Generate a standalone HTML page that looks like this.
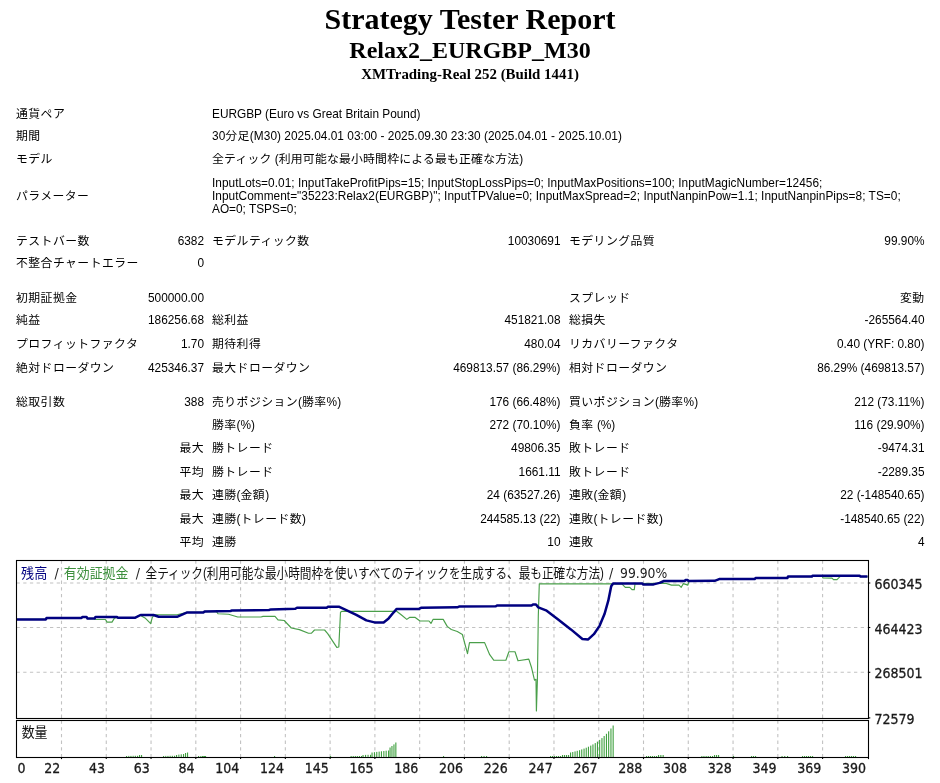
<!DOCTYPE html>
<html><head><meta charset="utf-8"><title>Strategy Tester: Relax2_EURGBP_M30</title>
<style>
html,body{margin:0;padding:0;background:#fff;}
body{width:940px;height:783px;position:relative;overflow:hidden;}
.h{position:absolute;left:0;width:940px;text-align:center;font-family:"Liberation Serif","Noto Serif CJK SC",serif;font-weight:bold;color:#000;white-space:nowrap;}
.t{position:absolute;white-space:nowrap;font-family:"Liberation Sans","Noto Sans CJK JP",sans-serif;font-size:11.85px;line-height:14px;height:14px;color:#000;}
.j{letter-spacing:var(--js,0.45px);}
.ch{position:absolute;left:0;top:550px;}
.g{stroke:#c2c2c2;stroke-width:1.1;stroke-dasharray:3.3 3.4;fill:none;}
.f{fill:none;stroke:#000;stroke-width:1.1;}
.ax{font-family:"DejaVu Sans Condensed","DejaVu Sans",sans-serif;font-size:14px;fill:#1a1a1a;stroke:#1a1a1a;stroke-width:0.3px;}
.lg{font-family:"Liberation Sans","Noto Sans CJK JP",sans-serif;font-size:14px;fill:#111;}
.lgl{font-family:"DejaVu Sans Condensed","DejaVu Sans",sans-serif;font-size:14px;fill:#222;}
</style></head>
<body>
<div class="h" style="top:0.5px;font-size:30px;line-height:36px;">Strategy Tester Report</div>
<div class="h" style="top:36px;font-size:24px;line-height:28px;">Relax2_EURGBP_M30</div>
<div class="h" style="top:64.5px;font-size:14.9px;line-height:18px;">XMTrading-Real 252 (Build 1441)</div>
<span class="t" style="top:106.6px;left:16px;"><span class="j">通貨ペア</span></span>
<span class="t" style="top:106.6px;left:212px;">EURGBP (Euro vs Great Britain Pound)</span>
<span class="t" style="top:129.0px;left:16px;"><span class="j">期間</span></span>
<span class="t" style="top:129.0px;left:212px;letter-spacing:0.04px">30<span class="j">分足</span>(M30) 2025.04.01 03:00 - 2025.09.30 23:30 (2025.04.01 - 2025.10.01)</span>
<span class="t" style="top:152.4px;left:16px;"><span class="j">モデル</span></span>
<span class="t" style="top:152.4px;left:212px;--js:0.2px"><span class="j">全ティック</span> (<span class="j">利用可能な最小時間枠による最も正確な方法</span>)</span>
<span class="t" style="top:188.9px;left:16px;"><span class="j">パラメーター</span></span>
<span class="t" style="top:175.6px;left:212px;letter-spacing:0.04px">InputLots=0.01; InputTakeProfitPips=15; InputStopLossPips=0; InputMaxPositions=100; InputMagicNumber=12456;</span>
<span class="t" style="top:188.9px;left:212px;letter-spacing:0.04px">InputComment=&quot;35223:Relax2(EURGBP)&quot;; InputTPValue=0; InputMaxSpread=2; InputNanpinPow=1.1; InputNanpinPips=8; TS=0;</span>
<span class="t" style="top:202.4px;left:212px;">AO=0; TSPS=0;</span>
<span class="t" style="top:233.6px;left:16px;"><span class="j">テストバー数</span></span>
<span class="t" style="top:233.6px;right:736px;">6382</span>
<span class="t" style="top:233.6px;left:212px;"><span class="j">モデルティック数</span></span>
<span class="t" style="top:233.6px;right:379.5px;">10030691</span>
<span class="t" style="top:233.6px;left:569px;"><span class="j">モデリング品質</span></span>
<span class="t" style="top:233.6px;right:15.5px;">99.90%</span>
<span class="t" style="top:256.4px;left:16px;"><span class="j">不整合チャートエラー</span></span>
<span class="t" style="top:256.4px;right:736px;">0</span>
<span class="t" style="top:290.5px;left:16px;"><span class="j">初期証拠金</span></span>
<span class="t" style="top:290.5px;right:736px;">500000.00</span>
<span class="t" style="top:290.5px;left:569px;"><span class="j">スプレッド</span></span>
<span class="t" style="top:290.5px;right:15.5px;"><span class="j">変動</span></span>
<span class="t" style="top:313.2px;left:16px;"><span class="j">純益</span></span>
<span class="t" style="top:313.2px;right:736px;">186256.68</span>
<span class="t" style="top:313.2px;left:212px;"><span class="j">総利益</span></span>
<span class="t" style="top:313.2px;right:379.5px;">451821.08</span>
<span class="t" style="top:313.2px;left:569px;"><span class="j">総損失</span></span>
<span class="t" style="top:313.2px;right:15.5px;">-265564.40</span>
<span class="t" style="top:336.9px;left:16px;"><span class="j">プロフィットファクタ</span></span>
<span class="t" style="top:336.9px;right:736px;">1.70</span>
<span class="t" style="top:336.9px;left:212px;"><span class="j">期待利得</span></span>
<span class="t" style="top:336.9px;right:379.5px;">480.04</span>
<span class="t" style="top:336.9px;left:569px;"><span class="j">リカバリーファクタ</span></span>
<span class="t" style="top:336.9px;right:15.5px;">0.40 (YRF: 0.80)</span>
<span class="t" style="top:360.5px;left:16px;"><span class="j">絶対ドローダウン</span></span>
<span class="t" style="top:360.5px;right:736px;">425346.37</span>
<span class="t" style="top:360.5px;left:212px;"><span class="j">最大ドローダウン</span></span>
<span class="t" style="top:360.5px;right:379.5px;">469813.57 (86.29%)</span>
<span class="t" style="top:360.5px;left:569px;"><span class="j">相対ドローダウン</span></span>
<span class="t" style="top:360.5px;right:15.5px;">86.29% (469813.57)</span>
<span class="t" style="top:394.5px;left:16px;"><span class="j">総取引数</span></span>
<span class="t" style="top:394.5px;right:736px;">388</span>
<span class="t" style="top:394.5px;left:212px;"><span class="j">売りポジション</span>(<span class="j">勝率</span>%)</span>
<span class="t" style="top:394.5px;right:379.5px;">176 (66.48%)</span>
<span class="t" style="top:394.5px;left:569px;"><span class="j">買いポジション</span>(<span class="j">勝率</span>%)</span>
<span class="t" style="top:394.5px;right:15.5px;">212 (73.11%)</span>
<span class="t" style="top:417.9px;left:212px;"><span class="j">勝率</span>(%)</span>
<span class="t" style="top:417.9px;right:379.5px;">272 (70.10%)</span>
<span class="t" style="top:417.9px;left:569px;"><span class="j">負率</span> (%)</span>
<span class="t" style="top:417.9px;right:15.5px;">116 (29.90%)</span>
<span class="t" style="top:441.3px;right:736px;"><span class="j">最大</span></span>
<span class="t" style="top:441.3px;left:212px;"><span class="j">勝トレード</span></span>
<span class="t" style="top:441.3px;right:379.5px;">49806.35</span>
<span class="t" style="top:441.3px;left:569px;"><span class="j">敗トレード</span></span>
<span class="t" style="top:441.3px;right:15.5px;">-9474.31</span>
<span class="t" style="top:464.7px;right:736px;"><span class="j">平均</span></span>
<span class="t" style="top:464.7px;left:212px;"><span class="j">勝トレード</span></span>
<span class="t" style="top:464.7px;right:379.5px;">1661.11</span>
<span class="t" style="top:464.7px;left:569px;"><span class="j">敗トレード</span></span>
<span class="t" style="top:464.7px;right:15.5px;">-2289.35</span>
<span class="t" style="top:488.1px;right:736px;"><span class="j">最大</span></span>
<span class="t" style="top:488.1px;left:212px;"><span class="j">連勝</span>(<span class="j">金額</span>)</span>
<span class="t" style="top:488.1px;right:379.5px;">24 (63527.26)</span>
<span class="t" style="top:488.1px;left:569px;"><span class="j">連敗</span>(<span class="j">金額</span>)</span>
<span class="t" style="top:488.1px;right:15.5px;">22 (-148540.65)</span>
<span class="t" style="top:511.5px;right:736px;"><span class="j">最大</span></span>
<span class="t" style="top:511.5px;left:212px;"><span class="j">連勝</span>(<span class="j">トレード数</span>)</span>
<span class="t" style="top:511.5px;right:379.5px;">244585.13 (22)</span>
<span class="t" style="top:511.5px;left:569px;"><span class="j">連敗</span>(<span class="j">トレード数</span>)</span>
<span class="t" style="top:511.5px;right:15.5px;">-148540.65 (22)</span>
<span class="t" style="top:534.9px;right:736px;"><span class="j">平均</span></span>
<span class="t" style="top:534.9px;left:212px;"><span class="j">連勝</span></span>
<span class="t" style="top:534.9px;right:379.5px;">10</span>
<span class="t" style="top:534.9px;left:569px;"><span class="j">連敗</span></span>
<span class="t" style="top:534.9px;right:15.5px;">4</span>
<svg class="ch" width="940" height="233" viewBox="0 550 940 233"><rect x="16.5" y="560.5" width="852.0" height="158.0" fill="#fff"/>
<line x1="16.5" y1="583.0" x2="868.5" y2="583.0" class="g"/>
<line x1="16.5" y1="627.5" x2="868.5" y2="627.5" class="g"/>
<line x1="16.5" y1="672.3" x2="868.5" y2="672.3" class="g"/>
<line x1="61.50" y1="560.5" x2="61.50" y2="718.5" class="g"/>
<line x1="61.50" y1="720.5" x2="61.50" y2="757.5" class="g"/>
<line x1="106.27" y1="560.5" x2="106.27" y2="718.5" class="g"/>
<line x1="106.27" y1="720.5" x2="106.27" y2="757.5" class="g"/>
<line x1="151.04" y1="560.5" x2="151.04" y2="718.5" class="g"/>
<line x1="151.04" y1="720.5" x2="151.04" y2="757.5" class="g"/>
<line x1="195.81" y1="560.5" x2="195.81" y2="718.5" class="g"/>
<line x1="195.81" y1="720.5" x2="195.81" y2="757.5" class="g"/>
<line x1="240.58" y1="560.5" x2="240.58" y2="718.5" class="g"/>
<line x1="240.58" y1="720.5" x2="240.58" y2="757.5" class="g"/>
<line x1="285.35" y1="560.5" x2="285.35" y2="718.5" class="g"/>
<line x1="285.35" y1="720.5" x2="285.35" y2="757.5" class="g"/>
<line x1="330.12" y1="560.5" x2="330.12" y2="718.5" class="g"/>
<line x1="330.12" y1="720.5" x2="330.12" y2="757.5" class="g"/>
<line x1="374.89" y1="560.5" x2="374.89" y2="718.5" class="g"/>
<line x1="374.89" y1="720.5" x2="374.89" y2="757.5" class="g"/>
<line x1="419.66" y1="560.5" x2="419.66" y2="718.5" class="g"/>
<line x1="419.66" y1="720.5" x2="419.66" y2="757.5" class="g"/>
<line x1="464.43" y1="560.5" x2="464.43" y2="718.5" class="g"/>
<line x1="464.43" y1="720.5" x2="464.43" y2="757.5" class="g"/>
<line x1="509.20" y1="560.5" x2="509.20" y2="718.5" class="g"/>
<line x1="509.20" y1="720.5" x2="509.20" y2="757.5" class="g"/>
<line x1="553.97" y1="560.5" x2="553.97" y2="718.5" class="g"/>
<line x1="553.97" y1="720.5" x2="553.97" y2="757.5" class="g"/>
<line x1="598.74" y1="560.5" x2="598.74" y2="718.5" class="g"/>
<line x1="598.74" y1="720.5" x2="598.74" y2="757.5" class="g"/>
<line x1="643.51" y1="560.5" x2="643.51" y2="718.5" class="g"/>
<line x1="643.51" y1="720.5" x2="643.51" y2="757.5" class="g"/>
<line x1="688.28" y1="560.5" x2="688.28" y2="718.5" class="g"/>
<line x1="688.28" y1="720.5" x2="688.28" y2="757.5" class="g"/>
<line x1="733.05" y1="560.5" x2="733.05" y2="718.5" class="g"/>
<line x1="733.05" y1="720.5" x2="733.05" y2="757.5" class="g"/>
<line x1="777.82" y1="560.5" x2="777.82" y2="718.5" class="g"/>
<line x1="777.82" y1="720.5" x2="777.82" y2="757.5" class="g"/>
<line x1="822.59" y1="560.5" x2="822.59" y2="718.5" class="g"/>
<line x1="822.59" y1="720.5" x2="822.59" y2="757.5" class="g"/>
<polyline points="16.5,619.4 46.0,619.4 46.5,618.0 81.5,618.0 82.5,616.9 86.5,616.9 87.5,618.6 94.5,618.6 95.0,619.5 105.5,619.5 107.0,622.1 112.0,622.1 114.6,617.9 117.0,617.7 135.3,617.7 139.6,615.0 145.0,617.9 150.7,623.7 152.3,617.3 154.5,614.7 177.0,614.7 187.2,612.4 203.4,612.4 205.0,611.4 216.5,611.6 218.0,613.8 228.6,614.2 237.7,617.0 261.0,617.0 263.0,616.4 275.0,616.4 278.0,619.9 284.2,620.5 291.3,628.0 299.4,629.6 308.5,633.2 311.5,633.2 314.5,630.0 324.6,630.0 327.7,633.6 336.8,647.4 338.8,647.0 340.5,612.3 342.0,611.3 393.7,611.3 395.7,610.5 401.8,615.3 406.8,619.4 409.8,617.3 414.9,617.3 420.0,621.0 429.0,621.0 431.0,623.4 433.0,619.4 443.2,619.4 447.2,626.4 451.3,629.5 457.3,631.5 462.4,634.5 467.5,653.7 469.5,642.6 484.6,642.6 489.7,654.7 493.7,660.2 505.9,660.2 508.9,651.7 515.0,651.7 518.0,660.8 528.8,659.1 531.6,667.8 534.5,680.2 536.0,679.3 536.4,710.9 537.4,680.0 538.3,616.0 539.3,583.8 611.2,583.8 621.6,583.6 625.3,587.3 629.8,587.3 632.0,589.6 634.3,589.6 635.0,583.6 665.5,583.3 671.5,585.1 679.0,585.1 681.2,587.3 683.4,583.6 687.9,585.1 689.0,581.1 714.7,580.8 719.2,579.1 754.6,579.1 755.5,578.1 787.3,578.1 788.0,576.6 811.9,576.6 812.5,575.7 822.0,575.7 823.0,577.9 832.0,578.1 833.5,579.6 837.0,579.6 839.0,577.6 841.0,575.7 859.6,575.7 860.5,576.6 867.5,576.6" fill="none" stroke="#4a9f4a" stroke-width="1.15" stroke-linejoin="round"/>
<polyline points="16.5,619.4 46.0,619.4 46.5,618.0 81.5,618.0 82.5,616.9 86.5,616.9 87.5,618.6 94.5,618.6 95.5,617.0 117.0,617.0 118.0,617.7 135.3,617.7 140.6,615.0 153.4,615.0 158.7,616.8 177.0,616.8 187.2,612.4 203.4,612.4 205.0,611.4 230.6,611.0 232.0,610.4 269.0,610.0 271.0,609.4 295.3,608.8 297.0,607.7 326.7,607.7 328.0,606.7 338.8,606.7 345.2,609.7 356.3,614.9 366.4,620.4 374.5,622.4 383.6,622.4 388.6,618.4 393.7,612.3 396.7,608.9 419.0,608.9 421.0,607.8 457.3,607.3 459.0,606.6 495.8,606.3 497.0,605.5 531.6,605.5 533.0,604.5 536.0,604.5 538.3,607.4 546.0,610.3 557.5,618.9 570.9,629.4 582.4,639.0 588.2,639.4 593.9,634.2 599.7,625.6 604.5,614.1 608.3,600.7 611.2,586.3 613.1,583.5 642.4,583.5 643.0,584.4 653.6,584.4 659.6,582.9 664.0,581.0 684.9,581.0 685.5,579.9 687.5,579.9 688.6,581.1 714.7,580.8 719.2,579.1 754.6,579.1 755.5,578.1 787.3,578.1 788.0,576.6 811.9,576.6 812.5,575.7 859.6,575.7 860.5,576.6 867.5,576.6" fill="none" stroke="#000080" stroke-width="2.5" stroke-linejoin="round"/>
<rect x="126.0" y="756.0" width="1.1" height="1.0" fill="#3fa03f"/>
<rect x="128.2" y="755.9" width="1.1" height="1.0" fill="#3fa03f"/>
<rect x="130.4" y="755.9" width="1.1" height="1.1" fill="#3fa03f"/>
<rect x="132.6" y="755.8" width="1.1" height="1.1" fill="#3fa03f"/>
<rect x="134.8" y="755.8" width="1.1" height="1.2" fill="#3fa03f"/>
<rect x="137.0" y="755.8" width="1.1" height="1.2" fill="#3fa03f"/>
<rect x="139.0" y="755.0" width="1.1" height="2.0" fill="#3fa03f"/>
<rect x="141.0" y="755.0" width="1.1" height="2.0" fill="#3fa03f"/>
<rect x="163.0" y="756.0" width="1.1" height="1.0" fill="#3fa03f"/>
<rect x="165.2" y="755.9" width="1.1" height="1.0" fill="#3fa03f"/>
<rect x="167.4" y="755.9" width="1.1" height="1.1" fill="#3fa03f"/>
<rect x="169.6" y="755.8" width="1.1" height="1.1" fill="#3fa03f"/>
<rect x="171.8" y="755.8" width="1.1" height="1.2" fill="#3fa03f"/>
<rect x="174.0" y="755.8" width="1.1" height="1.2" fill="#3fa03f"/>
<rect x="176.0" y="755.0" width="1.1" height="2.0" fill="#3fa03f"/>
<rect x="178.3" y="754.6" width="1.1" height="2.3" fill="#3fa03f"/>
<rect x="180.7" y="754.3" width="1.1" height="2.7" fill="#3fa03f"/>
<rect x="183.0" y="754.0" width="1.1" height="3.0" fill="#3fa03f"/>
<rect x="185.0" y="753.0" width="1.1" height="4.0" fill="#3fa03f"/>
<rect x="187.0" y="752.5" width="1.1" height="4.5" fill="#3fa03f"/>
<rect x="198.0" y="756.0" width="1.1" height="1.0" fill="#3fa03f"/>
<rect x="200.3" y="756.0" width="1.1" height="1.0" fill="#3fa03f"/>
<rect x="202.7" y="756.0" width="1.1" height="1.0" fill="#3fa03f"/>
<rect x="205.0" y="756.0" width="1.1" height="1.0" fill="#3fa03f"/>
<rect x="202.0" y="756.0" width="1.1" height="1.0" fill="#3fa03f"/>
<rect x="204.0" y="756.0" width="1.1" height="1.0" fill="#3fa03f"/>
<rect x="274.0" y="756.0" width="1.1" height="1.0" fill="#3fa03f"/>
<rect x="330.0" y="756.0" width="1.1" height="1.0" fill="#3fa03f"/>
<rect x="443.0" y="756.0" width="1.1" height="1.0" fill="#3fa03f"/>
<rect x="350.6" y="756.0" width="1.1" height="1.0" fill="#3fa03f"/>
<rect x="352.7" y="756.0" width="1.1" height="1.0" fill="#3fa03f"/>
<rect x="354.8" y="756.0" width="1.1" height="1.0" fill="#3fa03f"/>
<rect x="356.8" y="756.0" width="1.1" height="1.0" fill="#3fa03f"/>
<rect x="358.9" y="756.0" width="1.1" height="1.0" fill="#3fa03f"/>
<rect x="361.0" y="756.0" width="1.1" height="1.0" fill="#3fa03f"/>
<rect x="362.5" y="755.0" width="1.1" height="2.0" fill="#3fa03f"/>
<rect x="365.0" y="754.9" width="1.1" height="2.1" fill="#3fa03f"/>
<rect x="367.5" y="754.8" width="1.1" height="2.1" fill="#3fa03f"/>
<rect x="370.0" y="754.8" width="1.1" height="2.2" fill="#3fa03f"/>
<rect x="371.5" y="752.5" width="1.1" height="4.5" fill="#3fa03f"/>
<rect x="373.9" y="752.2" width="1.1" height="4.8" fill="#3fa03f"/>
<rect x="376.2" y="751.9" width="1.1" height="5.1" fill="#3fa03f"/>
<rect x="378.6" y="751.6" width="1.1" height="5.4" fill="#3fa03f"/>
<rect x="380.9" y="751.3" width="1.1" height="5.6" fill="#3fa03f"/>
<rect x="383.3" y="751.0" width="1.1" height="5.9" fill="#3fa03f"/>
<rect x="385.6" y="750.7" width="1.1" height="6.2" fill="#3fa03f"/>
<rect x="388.0" y="750.5" width="1.1" height="6.5" fill="#3fa03f"/>
<rect x="389.5" y="747.5" width="1.1" height="9.5" fill="#3fa03f"/>
<rect x="391.4" y="746.0" width="1.1" height="10.9" fill="#3fa03f"/>
<rect x="393.4" y="744.4" width="1.1" height="12.6" fill="#3fa03f"/>
<rect x="395.3" y="742.5" width="1.1" height="14.5" fill="#3fa03f"/>
<rect x="481.0" y="756.0" width="1.1" height="1.0" fill="#3fa03f"/>
<rect x="483.5" y="756.0" width="1.1" height="1.0" fill="#3fa03f"/>
<rect x="486.0" y="756.0" width="1.1" height="1.0" fill="#3fa03f"/>
<rect x="550.0" y="756.0" width="1.1" height="1.0" fill="#3fa03f"/>
<rect x="552.0" y="756.0" width="1.1" height="1.0" fill="#3fa03f"/>
<rect x="554.0" y="756.0" width="1.1" height="1.0" fill="#3fa03f"/>
<rect x="556.0" y="756.0" width="1.1" height="1.0" fill="#3fa03f"/>
<rect x="558.0" y="756.0" width="1.1" height="1.0" fill="#3fa03f"/>
<rect x="560.0" y="756.0" width="1.1" height="1.0" fill="#3fa03f"/>
<rect x="562.0" y="755.0" width="1.1" height="2.0" fill="#3fa03f"/>
<rect x="564.0" y="755.0" width="1.1" height="2.0" fill="#3fa03f"/>
<rect x="566.0" y="755.0" width="1.1" height="2.0" fill="#3fa03f"/>
<rect x="568.0" y="755.0" width="1.1" height="2.0" fill="#3fa03f"/>
<rect x="570.0" y="752.5" width="1.1" height="4.5" fill="#3fa03f"/>
<rect x="572.2" y="752.0" width="1.1" height="5.0" fill="#3fa03f"/>
<rect x="574.5" y="751.4" width="1.1" height="5.5" fill="#3fa03f"/>
<rect x="576.7" y="750.8" width="1.1" height="6.1" fill="#3fa03f"/>
<rect x="579.0" y="750.2" width="1.1" height="6.8" fill="#3fa03f"/>
<rect x="581.2" y="749.4" width="1.1" height="7.5" fill="#3fa03f"/>
<rect x="583.5" y="748.6" width="1.1" height="8.3" fill="#3fa03f"/>
<rect x="585.7" y="747.7" width="1.1" height="9.2" fill="#3fa03f"/>
<rect x="587.9" y="746.7" width="1.1" height="10.2" fill="#3fa03f"/>
<rect x="590.2" y="745.6" width="1.1" height="11.3" fill="#3fa03f"/>
<rect x="592.4" y="744.4" width="1.1" height="12.5" fill="#3fa03f"/>
<rect x="594.7" y="743.1" width="1.1" height="13.9" fill="#3fa03f"/>
<rect x="596.9" y="741.6" width="1.1" height="15.4" fill="#3fa03f"/>
<rect x="599.1" y="739.9" width="1.1" height="17.0" fill="#3fa03f"/>
<rect x="601.4" y="738.1" width="1.1" height="18.9" fill="#3fa03f"/>
<rect x="603.6" y="736.0" width="1.1" height="20.9" fill="#3fa03f"/>
<rect x="605.9" y="733.8" width="1.1" height="23.2" fill="#3fa03f"/>
<rect x="608.1" y="731.3" width="1.1" height="25.7" fill="#3fa03f"/>
<rect x="610.4" y="728.5" width="1.1" height="28.4" fill="#3fa03f"/>
<rect x="612.6" y="725.5" width="1.1" height="31.5" fill="#3fa03f"/>
<rect x="646.0" y="756.0" width="1.1" height="1.0" fill="#3fa03f"/>
<rect x="648.0" y="756.0" width="1.1" height="1.0" fill="#3fa03f"/>
<rect x="650.0" y="756.0" width="1.1" height="1.0" fill="#3fa03f"/>
<rect x="652.0" y="756.0" width="1.1" height="1.0" fill="#3fa03f"/>
<rect x="654.0" y="756.0" width="1.1" height="1.0" fill="#3fa03f"/>
<rect x="656.0" y="756.0" width="1.1" height="1.0" fill="#3fa03f"/>
<rect x="658.0" y="755.0" width="1.1" height="2.0" fill="#3fa03f"/>
<rect x="660.3" y="755.0" width="1.1" height="2.0" fill="#3fa03f"/>
<rect x="662.6" y="755.0" width="1.1" height="2.0" fill="#3fa03f"/>
<rect x="701.3" y="756.0" width="1.1" height="1.0" fill="#3fa03f"/>
<rect x="703.4" y="756.0" width="1.1" height="1.0" fill="#3fa03f"/>
<rect x="705.6" y="756.0" width="1.1" height="1.0" fill="#3fa03f"/>
<rect x="707.7" y="756.0" width="1.1" height="1.0" fill="#3fa03f"/>
<rect x="709.9" y="756.0" width="1.1" height="1.0" fill="#3fa03f"/>
<rect x="712.0" y="756.0" width="1.1" height="1.0" fill="#3fa03f"/>
<rect x="714.0" y="755.0" width="1.1" height="2.0" fill="#3fa03f"/>
<rect x="716.0" y="755.0" width="1.1" height="2.0" fill="#3fa03f"/>
<rect x="718.0" y="755.0" width="1.1" height="2.0" fill="#3fa03f"/>
<rect x="733.0" y="756.0" width="1.1" height="1.0" fill="#3fa03f"/>
<rect x="751.0" y="756.0" width="1.1" height="1.0" fill="#3fa03f"/>
<rect x="753.0" y="756.0" width="1.1" height="1.0" fill="#3fa03f"/>
<rect x="755.0" y="756.0" width="1.1" height="1.0" fill="#3fa03f"/>
<rect x="781.5" y="756.0" width="1.1" height="1.0" fill="#3fa03f"/>
<rect x="784.2" y="756.0" width="1.1" height="1.0" fill="#3fa03f"/>
<rect x="787.0" y="756.0" width="1.1" height="1.0" fill="#3fa03f"/>
<rect x="802.0" y="756.0" width="1.1" height="1.0" fill="#3fa03f"/>
<rect x="804.0" y="756.0" width="1.1" height="1.0" fill="#3fa03f"/>
<rect x="806.0" y="756.0" width="1.1" height="1.0" fill="#3fa03f"/>
<rect x="808.0" y="756.0" width="1.1" height="1.0" fill="#3fa03f"/>
<rect x="810.0" y="756.0" width="1.1" height="1.0" fill="#3fa03f"/>
<rect x="812.0" y="756.0" width="1.1" height="1.0" fill="#3fa03f"/>
<rect x="845.0" y="756.0" width="1.1" height="1.0" fill="#3fa03f"/>
<rect x="847.0" y="756.0" width="1.1" height="1.0" fill="#3fa03f"/>
<rect x="849.0" y="756.0" width="1.1" height="1.0" fill="#3fa03f"/>
<rect x="851.0" y="756.0" width="1.1" height="1.0" fill="#3fa03f"/>
<rect x="853.0" y="756.0" width="1.1" height="1.0" fill="#3fa03f"/>
<rect x="855.0" y="756.0" width="1.1" height="1.0" fill="#3fa03f"/>
<rect x="16.5" y="560.5" width="852.0" height="158.0" class="f"/>
<rect x="16.5" y="720.5" width="852.0" height="37.0" class="f"/>
<line x1="868.5" y1="583.0" x2="870.3" y2="583.0" stroke="#000" stroke-width="1.1"/>
<line x1="868.5" y1="627.5" x2="870.3" y2="627.5" stroke="#000" stroke-width="1.1"/>
<line x1="868.5" y1="672.3" x2="870.3" y2="672.3" stroke="#000" stroke-width="1.1"/>
<line x1="868.5" y1="717.9" x2="870.3" y2="717.9" stroke="#000" stroke-width="1.1"/>
<line x1="61.50" y1="757.5" x2="61.50" y2="759.1" stroke="#000" stroke-width="1.1"/>
<line x1="106.27" y1="757.5" x2="106.27" y2="759.1" stroke="#000" stroke-width="1.1"/>
<line x1="151.04" y1="757.5" x2="151.04" y2="759.1" stroke="#000" stroke-width="1.1"/>
<line x1="195.81" y1="757.5" x2="195.81" y2="759.1" stroke="#000" stroke-width="1.1"/>
<line x1="240.58" y1="757.5" x2="240.58" y2="759.1" stroke="#000" stroke-width="1.1"/>
<line x1="285.35" y1="757.5" x2="285.35" y2="759.1" stroke="#000" stroke-width="1.1"/>
<line x1="330.12" y1="757.5" x2="330.12" y2="759.1" stroke="#000" stroke-width="1.1"/>
<line x1="374.89" y1="757.5" x2="374.89" y2="759.1" stroke="#000" stroke-width="1.1"/>
<line x1="419.66" y1="757.5" x2="419.66" y2="759.1" stroke="#000" stroke-width="1.1"/>
<line x1="464.43" y1="757.5" x2="464.43" y2="759.1" stroke="#000" stroke-width="1.1"/>
<line x1="509.20" y1="757.5" x2="509.20" y2="759.1" stroke="#000" stroke-width="1.1"/>
<line x1="553.97" y1="757.5" x2="553.97" y2="759.1" stroke="#000" stroke-width="1.1"/>
<line x1="598.74" y1="757.5" x2="598.74" y2="759.1" stroke="#000" stroke-width="1.1"/>
<line x1="643.51" y1="757.5" x2="643.51" y2="759.1" stroke="#000" stroke-width="1.1"/>
<line x1="688.28" y1="757.5" x2="688.28" y2="759.1" stroke="#000" stroke-width="1.1"/>
<line x1="733.05" y1="757.5" x2="733.05" y2="759.1" stroke="#000" stroke-width="1.1"/>
<line x1="777.82" y1="757.5" x2="777.82" y2="759.1" stroke="#000" stroke-width="1.1"/>
<line x1="822.59" y1="757.5" x2="822.59" y2="759.1" stroke="#000" stroke-width="1.1"/>
<line x1="868.50" y1="757.5" x2="868.50" y2="759.1" stroke="#000" stroke-width="1.1"/>
<text x="874.5" y="589.0" class="ax">660345</text>
<text x="874.5" y="633.5" class="ax">464423</text>
<text x="874.5" y="678.3" class="ax">268501</text>
<text x="874.5" y="723.9" class="ax">72579</text>
<text x="17.6" y="772.6" class="ax">0</text>
<text x="60.20" y="772.6" class="ax" text-anchor="end">22</text>
<text x="104.97" y="772.6" class="ax" text-anchor="end">43</text>
<text x="149.74" y="772.6" class="ax" text-anchor="end">63</text>
<text x="194.51" y="772.6" class="ax" text-anchor="end">84</text>
<text x="239.28" y="772.6" class="ax" text-anchor="end">104</text>
<text x="284.05" y="772.6" class="ax" text-anchor="end">124</text>
<text x="328.82" y="772.6" class="ax" text-anchor="end">145</text>
<text x="373.59" y="772.6" class="ax" text-anchor="end">165</text>
<text x="418.36" y="772.6" class="ax" text-anchor="end">186</text>
<text x="463.13" y="772.6" class="ax" text-anchor="end">206</text>
<text x="507.90" y="772.6" class="ax" text-anchor="end">226</text>
<text x="552.67" y="772.6" class="ax" text-anchor="end">247</text>
<text x="597.44" y="772.6" class="ax" text-anchor="end">267</text>
<text x="642.21" y="772.6" class="ax" text-anchor="end">288</text>
<text x="686.98" y="772.6" class="ax" text-anchor="end">308</text>
<text x="731.75" y="772.6" class="ax" text-anchor="end">328</text>
<text x="776.52" y="772.6" class="ax" text-anchor="end">349</text>
<text x="821.29" y="772.6" class="ax" text-anchor="end">369</text>
<text x="866.06" y="772.6" class="ax" text-anchor="end">390</text>
<text x="21.1" y="577.6" class="lg" style="fill:#000080" textLength="26.1" lengthAdjust="spacingAndGlyphs">残高</text>
<text x="54.5" y="577.6" class="lgl">/</text>
<text x="63.8" y="577.6" class="lg" style="fill:#3d8f3d" textLength="64.6" lengthAdjust="spacingAndGlyphs">有効証拠金</text>
<text x="135.7" y="577.6" class="lgl">/</text>
<text x="145.5" y="577.6" class="lg" textLength="458.5" lengthAdjust="spacingAndGlyphs">全ティック(利用可能な最小時間枠を使いすべてのティックを生成する、最も正確な方法)</text>
<text x="609" y="577.6" class="lgl">/</text>
<text x="620" y="577.6" class="lgl" textLength="47.3" lengthAdjust="spacingAndGlyphs">99.90%</text>
<text x="21.7" y="736.8" class="lg" textLength="25.8" lengthAdjust="spacingAndGlyphs">数量</text></svg>
</body></html>
